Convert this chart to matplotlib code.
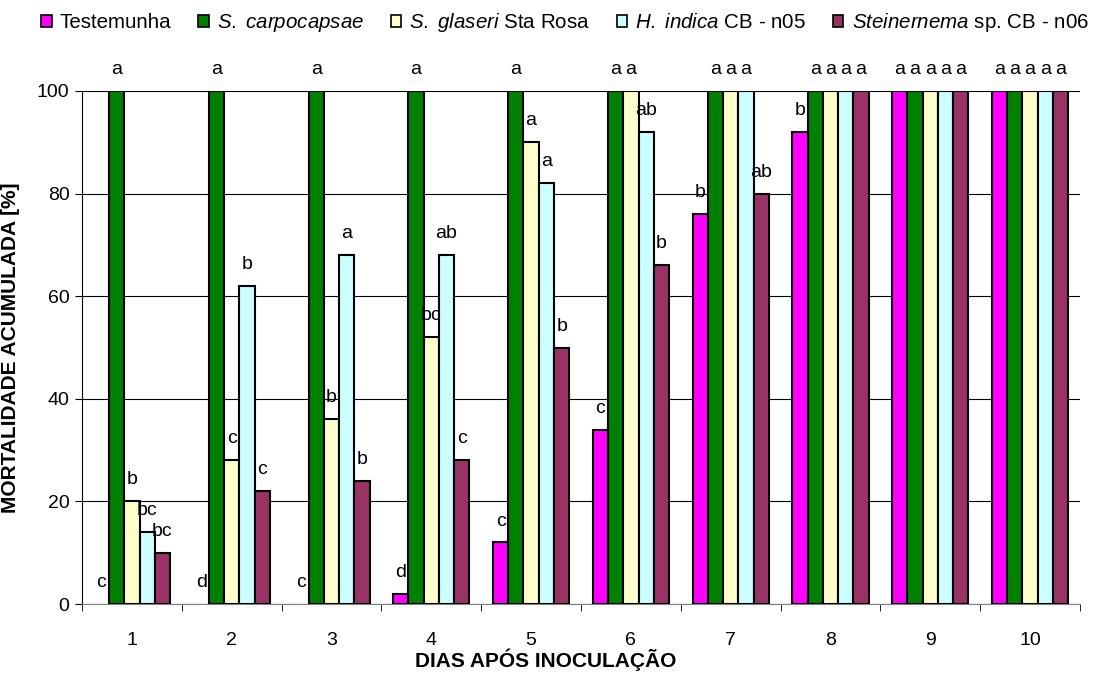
import numpy as np
import matplotlib
matplotlib.use("Agg")
import matplotlib.pyplot as plt
from matplotlib.patches import Patch

plt.rcParams['font.family'] = ['Liberation Sans', 'DejaVu Sans']
plt.rcParams['mathtext.fontset'] = 'custom'
plt.rcParams['mathtext.rm'] = 'Liberation Sans'
plt.rcParams['mathtext.it'] = 'Liberation Sans:italic'

# dados
dias = [1, 2, 3, 4, 5, 6, 7, 8, 9, 10]
rotulos_legenda = ["Testemunha", r"$\mathit{S.\ carpocapsae}$",
                   r"$\mathit{S.\ glaseri}$ Sta Rosa", r"$\mathit{H.\ indica}$ CB - n05",
                   r"$\mathit{Steinernema}$ sp. CB - n06"]
cores = ["#FF00FF", "#008000", "#FFFFCC", "#CCFFFF", "#993366"]

testemunha = [0, 0, 0, 2, 12, 34, 76, 92, 100, 100]
carpocapsae = [100, 100, 100, 100, 100, 100, 100, 100, 100, 100]
glaseri = [20, 28, 36, 52, 90, 100, 100, 100, 100, 100]
indica = [14, 62, 68, 68, 82, 92, 100, 100, 100, 100]
steinernema = [10, 22, 24, 28, 50, 66, 80, 100, 100, 100]

letras_test = ["c", "d", "c", "d", "c", "c", "b", "b", "a", "a"]
letras_carp = ["a"] * 10
letras_glas = ["b", "c", "b", "bc", "a", "a", "a", "a", "a", "a"]
letras_ind = ["bc", "b", "a", "ab", "a", "ab", "a", "a", "a", "a"]
letras_stei = ["bc", "c", "b", "c", "b", "b", "ab", "a", "a", "a"]

valores = [testemunha, carpocapsae, glaseri, indica, steinernema]
letras = [letras_test, letras_carp, letras_glas, letras_ind, letras_stei]

FS = 14

fig = plt.figure(figsize=(10.96, 6.73), dpi=100)
ax = fig.add_axes([0.0748, 0.1025, 0.9106, 0.7623])

x = np.array(dias, dtype=float)
largura = 0.153
for i, (vals, cor, let) in enumerate(zip(valores, cores, letras)):
    pos = x + (i - 2) * largura
    bordas = [1.5 if v > 0 else 0 for v in vals]
    ax.bar(pos, vals, width=largura, color=cor, edgecolor="black",
           linewidth=bordas, zorder=3)
    for px, v, t in zip(pos, vals, let):
        ax.annotate(t, (px, v), xytext=(0, 12.2), textcoords="offset points",
                    ha="center", va="baseline", fontsize=FS, zorder=4)

ax.set_xlim(0.5, 10.5)
ax.set_ylim(0, 100)
ax.set_yticks([0, 20, 40, 60, 80, 100])
ax.yaxis.grid(True, color="black", linewidth=0.8, zorder=0)
ax.set_xticks(dias)
ax.set_xticklabels([str(d) for d in dias])
ax.set_xticks(np.arange(0.5, 11, 1), minor=True)
ax.tick_params(axis="x", which="major", length=0, pad=20, labelsize=FS)
ax.tick_params(axis="x", which="minor", length=5, direction="out", color="black")
ax.tick_params(axis="y", length=5, direction="out", labelsize=FS, pad=4)

for s in ["top", "right"]:
    ax.spines[s].set_visible(False)
ax.spines["left"].set_color("black")
ax.spines["bottom"].set_color("#808080")

ax.set_xlabel("DIAS APÓS INOCULAÇÃO", fontsize=15, fontweight="bold")
ax.xaxis.set_label_coords(0.465, -0.087)
ax.xaxis.label.set_va("top")
ax.set_ylabel("MORTALIDADE ACUMULADA [%]", fontsize=15, fontweight="bold", labelpad=12)

alcas = [Patch(facecolor=c, edgecolor="black", linewidth=1.2) for c in cores]
fig.legend(alcas, rotulos_legenda, loc="center", bbox_to_anchor=(0.5155, 0.966),
           ncol=5, frameon=False, fontsize=14.8, handlelength=0.5, handleheight=0.5,
           handletextpad=0.4, columnspacing=1.3, borderaxespad=0)

fig.savefig("out.png", dpi=100)
